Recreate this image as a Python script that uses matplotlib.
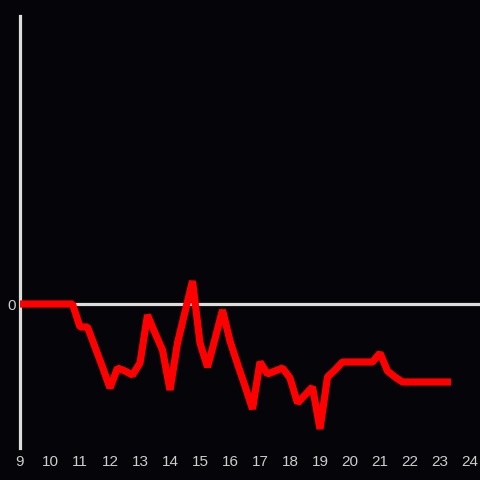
import matplotlib
matplotlib.use("Agg")
import matplotlib.pyplot as plt

hours = [9.0, 9.25, 9.5, 9.75, 10.0, 10.25, 10.5, 10.75,
         11.0, 11.25, 11.5, 11.75, 12.0, 12.25, 12.5, 12.75,
         13.0, 13.25, 13.5, 13.75, 14.0, 14.25, 14.5, 14.75,
         15.0, 15.25, 15.5, 15.75, 16.0, 16.25, 16.5, 16.75,
         17.0, 17.25, 17.5, 17.75, 18.0, 18.25, 18.5, 18.75,
         19.0, 19.25, 19.5, 19.75, 20.0, 20.25, 20.5, 20.75,
         21.0, 21.25, 21.5, 21.75, 22.0, 22.25, 22.5, 22.75,
         23.0, 23.25]
values = [0, 0, 0, 0, 0, 0, 0, 0,
          -2.3, -2.3, -4.3, -6.3, -8.4, -6.4, -6.7, -7.1,
          -5.9, -1.1, -2.9, -4.6, -8.6, -3.9, -0.8, 2.3,
          -3.9, -6.3, -3.5, -0.6, -3.7, -6.0, -8.2, -10.5,
          -5.8, -7.0, -6.7, -6.4, -7.4, -9.9, -9.1, -8.3,
          -12.5, -7.3, -6.6, -5.8, -5.8, -5.8, -5.8, -5.8,
          -4.9, -6.7, -7.3, -7.8, -7.8, -7.8, -7.8, -7.8,
          -7.8, -7.8]
xticks = list(range(9, 25))

bg = "#050408"
fg = "#dddddd"

fig = plt.figure(figsize=(4.8, 4.8), dpi=100, facecolor=bg)
ax = fig.add_axes([20/480, 32/480, 460/480, 432/480], facecolor=bg)

ax.axhline(0, color=fg, lw=2.3, zorder=1)
ax.plot(hours, values, color="#ff0000", lw=5.2, solid_capstyle="projecting",
        solid_joinstyle="bevel", zorder=3)

ax.set_xlim(9, 24 + 1/3)
ax.set_ylim(-14.4, 28.8)

for s in ["top", "right", "bottom"]:
    ax.spines[s].set_visible(False)
ax.spines["left"].set_color(fg)
ax.spines["left"].set_linewidth(2.3)

ax.set_xticks(xticks)
ax.set_xticklabels([str(t) for t in xticks])
ax.set_yticks([0])
ax.set_yticklabels(["0"])
ax.tick_params(axis="both", length=0, colors="#cccccc", labelsize=11)
ax.tick_params(axis="x", pad=5)
ax.tick_params(axis="y", pad=3)
for lab in ax.get_xticklabels() + ax.get_yticklabels():
    lab.set_fontfamily("Liberation Sans")

fig.savefig("out.png", dpi=100, facecolor=bg)
